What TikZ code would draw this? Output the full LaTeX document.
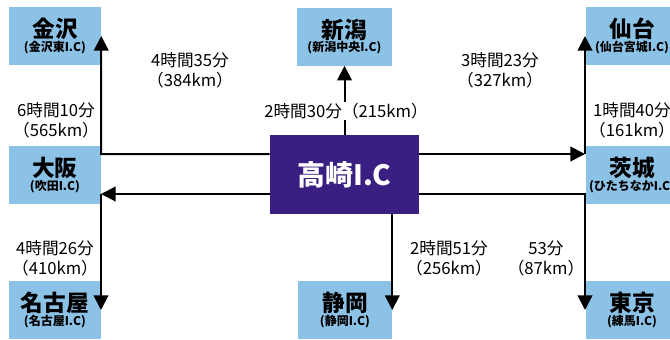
\documentclass[tikz,border=0pt]{standalone}
\usepackage{fontspec}
\setmainfont{Noto Sans CJK JP}
\usetikzlibrary{arrows.meta}
\definecolor{cityblue}{HTML}{8DC2E7}
\definecolor{hubpurple}{HTML}{3A1F83}
\newcommand{\place}[2]{{\fontsize{17}{19}\selectfont\bfseries #1}\\[-2pt]{\fontsize{9}{10}\selectfont\bfseries (#2)}}
\begin{document}
\begin{tikzpicture}[x=0.75pt,y=-0.75pt,
    city/.style={fill=cityblue,minimum width=69pt,minimum height=43.5pt,align=center,inner sep=0pt},
    hub/.style={fill=hubpurple,text=white,minimum width=111.75pt,minimum height=59.25pt,
      font=\fontsize{21}{24}\selectfont\bfseries},
    route/.style={line width=1.5pt,-{Triangle[length=11pt,width=11pt]}},
    time/.style={align=center,font=\fontsize{12.5}{15}\selectfont,inner sep=1pt}]
    \useasboundingbox (0,0) rectangle (670,339);
    % interchanges
    \node [hub] (takasaki) at (344.5,174.5) {高崎I.C};
    \node [city] (kanazawa) at (55,36) {\place{金沢}{金沢東I.C}};
    \node [city,minimum width=71pt] (niigata) at (344.5,36.5) {\place{新潟}{新潟中央I.C}};
    \node [city] (sendai) at (632,36) {\place{仙台}{仙台宮城I.C}};
    \node [city] (osaka) at (55,175) {\place{大阪}{吹田I.C}};
    \node [city] (ibaraki) at (632,175) {\place{茨城}{ひたちなかI.C}};
    \node [city] (nagoya) at (55,310) {\place{名古屋}{名古屋I.C}};
    \node [city,minimum width=70.5pt] (shizuoka) at (345,310) {\place{静岡}{静岡I.C}};
    \node [city] (tokyo) at (632,310) {\place{東京}{練馬I.C}};
    % corners
    \coordinate (ul) at (101,154);
    \coordinate (ur) at (585,154);
    \coordinate (ll) at (101,194);
    \coordinate (lr) at (585,194);
    % roads
    \draw [route] (takasaki.west |- ul) -- (ul) -- (kanazawa.east);
    \draw [route] (takasaki.east |- ur) -- (ur);
    \draw [route] (ur) -- (ur |- sendai.west);
    \draw [route] (takasaki.west |- ll) -- (ll);
    \draw [route] (ll) -- (ll |- nagoya.east);
    \draw [route] (takasaki.east |- lr) -- (lr) -- (lr |- tokyo.west);
    \draw [route] (takasaki.north) -- (niigata.south);
    \draw [route] (takasaki.south -| shizuoka.east) -- (shizuoka.east);
    % times
    \node [time] (t1) at (190,70) {4時間35分\\（384km）};
    \node [time] (t2) at (56,120) {6時間10分\\（565km）};
    \node [time] (t3) at (500,70) {3時間23分\\（327km）};
    \node [time] (t4) at (632,120) {1時間40分\\（161km）};
    \node [time,fill=white] (t5) at (346,111) {2時間30分（215km）};
    \node [time] (t6) at (55,258) {4時間26分\\（410km）};
    \node [time] (t7) at (449,258) {2時間51分\\（256km）};
    \node [time] (t8) at (546,258) {53分\\（87km）};
\end{tikzpicture}
\end{document}
